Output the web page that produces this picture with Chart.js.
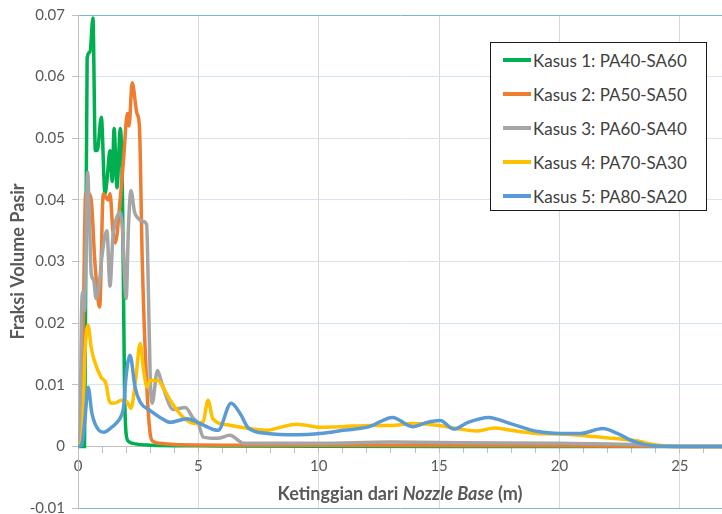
<!DOCTYPE html>
<html lang="id">
<head>
  <meta charset="UTF-8" />
  <title>Fraksi Volume Pasir</title>
  <script src="https://cdn.jsdelivr.net/npm/chart.js"></script>
  <style>
    body { margin: 0; background: #fff; }
    #wrap { position: relative; width: 722px; height: 514px; }
    #legend { position: absolute; left: 490px; top: 42px; width: 217px; height: 169px; box-sizing: border-box;
              border: 1.5px solid #1a1a1a; background: #fff; font-family: Lato, sans-serif; font-size: 17px; color: #404040; }
    .row { height: 34px; display: flex; align-items: center; padding-left: 12px; }
    .swatch { width: 28px; height: 4px; margin-right: 2px; }
  </style>
</head>
<body>
  <div id="wrap">
    <canvas id="chart" width="722" height="514"></canvas>
    <div id="legend"></div>
  </div>

  <script>
    const seriesNames = ['Kasus 1: PA40-SA60', 'Kasus 2: PA50-SA50', 'Kasus 3: PA60-SA40', 'Kasus 4: PA70-SA30', 'Kasus 5: PA80-SA20'];
    const seriesColors = ['#00b050', '#ed7d31', '#a5a5a5', '#ffc000', '#5b9bd5'];

    // Ketinggian (m) / fraksi volume
    const k1X = [0, 0.27, 0.31, 0.38, 0.5, 0.62, 0.72, 0.8, 0.97, 1.12, 1.2, 1.33, 1.42, 1.5, 1.62, 1.76, 1.85, 1.93, 2.0, 2.1, 2.4, 3, 5, 10, 26.75];
    const k1Y = [0, 0, 0.02, 0.063, 0.064, 0.0695, 0.048, 0.048, 0.0534, 0.041, 0.043, 0.048, 0.043, 0.0516, 0.042, 0.0516, 0.04, 0.01, 0.002, 0.0008, 0.0004, 0.0002, 0.0001, 0, 0];

    const k2X = [0, 0.12, 0.22, 0.32, 0.45, 0.55, 0.7, 0.9, 1.05, 1.25, 1.33, 1.45, 1.55, 1.75, 1.9, 2.05, 2.12, 2.25, 2.45, 2.55, 2.67, 2.83, 3.0, 3.12, 3.4, 4, 6, 10, 20, 24, 26.75];
    const k2Y = [0, 0.001, 0.02, 0.041, 0.041, 0.04, 0.03, 0.0226, 0.041, 0.04, 0.041, 0.035, 0.033, 0.04, 0.047, 0.054, 0.052, 0.059, 0.054, 0.052, 0.03, 0.012, 0.002, 0.0008, 0.0005, 0.0003, 0.0002, 0.0002, 0.0001, 0, 0];

    const k3X = [0, 0.08, 0.15, 0.2, 0.27, 0.32, 0.4, 0.48, 0.55, 0.65, 0.75, 0.9, 1.0, 1.2, 1.33, 1.45, 1.6, 1.75, 1.85, 2.0, 2.1, 2.2, 2.35, 2.5, 2.7, 2.85, 2.93, 3.0, 3.08, 3.3, 3.5, 3.95, 4.45, 4.8, 5.0, 5.2, 5.8, 6.3, 6.9, 8, 10, 13, 16, 20, 23, 25, 26.75];
    const k3Y = [0, 0.002, 0.022, 0.025, 0.022, 0.03, 0.0445, 0.036, 0.028, 0.027, 0.024, 0.027, 0.031, 0.035, 0.026, 0.034, 0.037, 0.038, 0.035, 0.024, 0.036, 0.0415, 0.038, 0.037, 0.0365, 0.036, 0.024, 0.011, 0.007, 0.0123, 0.01, 0.006, 0.0063, 0.0045, 0.0037, 0.0015, 0.0013, 0.0018, 0.0005, 0.0005, 0.0005, 0.0007, 0.0006, 0.0005, 0.0003, 0, 0];

    const k4X = [0, 0.12, 0.2, 0.3, 0.42, 0.55, 0.67, 0.96, 1.16, 1.29, 1.41, 1.6, 1.79, 2.04, 2.2, 2.4, 2.58, 2.72, 2.87, 3.0, 3.33, 3.5, 3.83, 4.37, 4.9, 5.2, 5.4, 5.6, 6.2, 7.1, 7.9, 8.3, 9.1, 10.1, 11, 12.1, 13, 13.9, 15, 15.7, 16.6, 17.3, 18, 19.1, 20, 21.4, 22.2, 23.2, 23.9, 24.7, 26.75];
    const k4Y = [0, 0.0005, 0.004, 0.016, 0.0196, 0.016, 0.014, 0.0112, 0.0102, 0.0075, 0.007, 0.0071, 0.0075, 0.0072, 0.0062, 0.011, 0.0167, 0.0125, 0.0096, 0.0107, 0.0107, 0.0098, 0.0075, 0.0047, 0.0037, 0.004, 0.0075, 0.0045, 0.0035, 0.0029, 0.0026, 0.003, 0.0036, 0.0031, 0.0032, 0.0034, 0.0034, 0.0037, 0.0034, 0.0029, 0.0025, 0.003, 0.0026, 0.0021, 0.002, 0.0016, 0.0013, 0.0009, 0.0003, 0, 0];

    const k5X = [0, 0.15, 0.28, 0.42, 0.58, 0.87, 1.08, 1.37, 1.62, 1.8, 1.9, 1.98, 2.16, 2.37, 2.58, 3.0, 3.41, 3.83, 4.53, 5.07, 5.82, 6.36, 6.74, 7.07, 7.86, 9.1, 10.06, 11.0, 12.1, 13.06, 13.9, 14.5, 15.05, 15.6, 16.2, 17.05, 17.96, 19.1, 20.04, 20.87, 21.8, 22.4, 23.08, 23.9, 25, 26.75];
    const k5Y = [0, 0.0003, 0.004, 0.0096, 0.0053, 0.0026, 0.0023, 0.003, 0.0039, 0.005, 0.0065, 0.0107, 0.0148, 0.0096, 0.0072, 0.0058, 0.0047, 0.0039, 0.0045, 0.0037, 0.0026, 0.007, 0.0053, 0.003, 0.0021, 0.0019, 0.0021, 0.0026, 0.0032, 0.0047, 0.0032, 0.0039, 0.0042, 0.0028, 0.0039, 0.0047, 0.0037, 0.0024, 0.0021, 0.0021, 0.0029, 0.0021, 0.0008, 0.0001, 0, 0];

    const xs = [k1X, k2X, k3X, k4X, k5X];
    const ys = [k1Y, k2Y, k3Y, k4Y, k5Y];

    const FONT = 'Lato, sans-serif';
    const TEXT = '#595959';

    const datasets = seriesNames.map((name, i) => ({
      label: name,
      data: xs[i].map((x, j) => ({ x: x, y: ys[i][j] })),
      borderColor: seriesColors[i],
      order: 5 - i  // later series on top, like Excel
    }));

    // legend box inside the plot
    const legend = document.getElementById('legend');
    seriesNames.forEach((name, i) => {
      const row = document.createElement('div');
      row.className = 'row';
      row.innerHTML = '<span class="swatch" style="background:' + seriesColors[i] + '"></span>' + name;
      legend.appendChild(row);
    });

    // axis titles (x title has an italic part)
    const titlePlugin = {
      id: 'titles',
      afterDraw(chart) {
        const { ctx, chartArea } = chart;
        ctx.save();
        ctx.fillStyle = TEXT;
        ctx.textBaseline = 'middle';
        const parts = [['bold 18px ' + FONT, 'Ketinggian dari '], ['italic bold 18px ' + FONT, 'Nozzle Base'], ['bold 18px ' + FONT, ' (m)']];
        let total = 0;
        parts.forEach(p => { ctx.font = p[0]; total += ctx.measureText(p[1]).width; });
        let x = (chartArea.left + chartArea.right) / 2 - total / 2;
        parts.forEach(p => { ctx.font = p[0]; ctx.fillText(p[1], x, 494); x += ctx.measureText(p[1]).width; });

        ctx.translate(18, (chartArea.top + chartArea.bottom) / 2);
        ctx.rotate(-Math.PI / 2);
        ctx.font = 'bold 18px ' + FONT;
        ctx.textAlign = 'center';
        ctx.fillText('Fraksi Volume Pasir', 0, 0);
        ctx.restore();
      }
    };

    new Chart(document.getElementById('chart'), {
      type: 'line',
      data: { datasets: datasets },
      options: {
        responsive: false,
        animation: false,
        layout: { padding: { top: 15, bottom: 6, left: 0, right: 0 } },
        plugins: { legend: { display: false }, tooltip: { enabled: false } },
        elements: {
          point: { radius: 0 },
          line: { borderWidth: 3.5, cubicInterpolationMode: 'monotone' }
        },
        scales: {
          x: {
            type: 'linear',
            position: { y: 0 },
            min: 0, max: 26.75,
            ticks: {
              stepSize: 1, includeBounds: false, autoSkip: false, maxRotation: 0,
              color: TEXT, font: { family: FONT, size: 15 }, padding: 5,
              callback: v => (v % 5 === 0 ? String(v) : '')
            },
            grid: {
              color: c => (c.tick && c.tick.value === 0 ? '#bfbfbf' : (c.tick && c.tick.value % 5 === 0 ? '#d9d9d9' : 'transparent')),
              tickColor: '#bfbfbf', tickLength: 6
            },
            border: { color: '#bfbfbf' },
            afterFit(s) { s.height = 0; s.paddingLeft = 0; s.paddingRight = 0; }
          },
          y: {
            min: -0.01, max: 0.07,
            ticks: {
              stepSize: 0.01, color: TEXT, font: { family: FONT, size: 15 }, padding: 7,
              callback: v => String(+v.toFixed(2))
            },
            grid: {
              color: c => {
                if (!c.tick) return '#d6e4f3';
                const v = c.tick.value;
                if (Math.abs(v) < 1e-9) return 'transparent';
                if (Math.abs(v - 0.07) < 1e-9 || Math.abs(v + 0.01) < 1e-9) return '#7fb0e0';
                return '#d6e4f3';
              },
              tickColor: '#bfbfbf', tickLength: 6
            },
            border: { color: '#bfbfbf' },
            afterFit(s) { s.width = 78; s.paddingTop = 0; s.paddingBottom = 0; }
          }
        }
      },
      plugins: [titlePlugin]
    });
  </script>
</body>
</html>
